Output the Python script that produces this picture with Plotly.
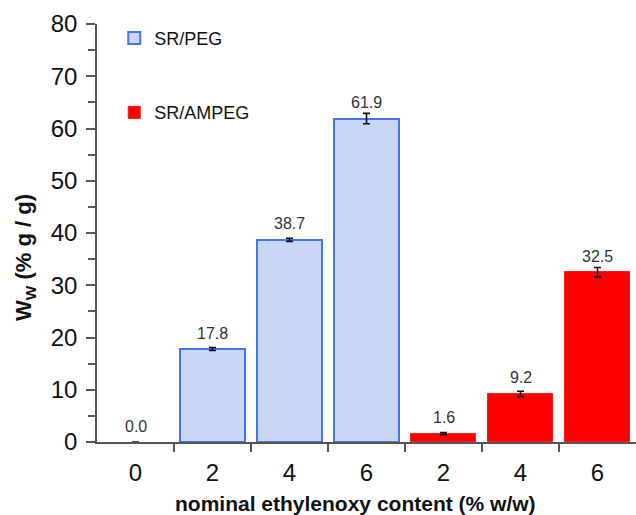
import plotly.graph_objects as go

# Category slots along the x axis (nominal ethylenoxy content, % w/w)
slot_labels = ["0", "2", "4", "6", "2", "4", "6"]

# Water uptake W_W (% g/g) with standard deviations
peg_slots = [1, 2, 3, 0]
peg_values = [17.8, 38.7, 61.9, 0.0]
peg_errors = [0.3, 0.3, 1.0, 0.0]

ampeg_slots = [4, 5, 6]
ampeg_values = [1.6, 9.2, 32.5]
ampeg_errors = [0.2, 0.5, 0.9]

FONT = "Liberation Sans, Arial, sans-serif"
AXIS_GREY = "#555555"

fig = go.Figure()

# Zero-height bars get no outline so nothing shows along the baseline
fig.add_trace(go.Bar(
    x=peg_slots, y=peg_values, name="SR/PEG", legendgroup="peg",
    width=0.85,
    marker=dict(color="#c9d7f7",
                line=dict(color="#4574f2",
                          width=[0 if v == 0 else 2 for v in peg_values])),
    error_y=dict(type="data", array=peg_errors, visible=True,
                 color="#111111", thickness=1.6, width=3.5),
))
fig.add_trace(go.Bar(
    x=ampeg_slots, y=ampeg_values, name="SR/AMPEG", legendgroup="ampeg",
    width=0.85,
    marker=dict(color="#ff0000", line=dict(color="#ff1a1a", width=1)),
    error_y=dict(type="data", array=ampeg_errors, visible=True,
                 color="#111111", thickness=1.6, width=3.5),
))

# Value labels above each bar
for xs, vs in ((peg_slots, peg_values), (ampeg_slots, ampeg_values)):
    for x, v in zip(xs, vs):
        fig.add_annotation(
            x=x, y=v, text=f"{v:.1f}", showarrow=False,
            yanchor="middle", yshift=16,
            font=dict(family=FONT, size=16, color="#333333"),
        )

# X axis title, placed under the tick labels
fig.add_annotation(
    xref="paper", yref="paper", x=0.479, y=-0.148,
    text="<b>nominal ethylenoxy content (% w/w)</b>", showarrow=False,
    xanchor="center", yanchor="middle",
    font=dict(family=FONT, size=21, color="#111111"),
)

# Y axis title, rotated, left of the tick labels
fig.add_annotation(
    xref="paper", yref="paper", x=-0.1336, y=0.4426,
    text="<b>W<sub>W</sub> (% g / g)</b>", showarrow=False, textangle=-90,
    xanchor="center", yanchor="middle",
    font=dict(family=FONT, size=22, color="#111111"),
)

fig.update_layout(
    width=636, height=515,
    margin=dict(l=97, r=0, t=24, b=73),
    paper_bgcolor="white", plot_bgcolor="white",
    font=dict(family=FONT, color="#111111"),
    barmode="overlay",
    bargap=0,
    showlegend=True,
    legend=dict(
        x=0.032, y=1.01, xanchor="left", yanchor="top",
        font=dict(family=FONT, size=18, color="#111111"),
        bgcolor="rgba(0,0,0,0)",
        tracegroupgap=48,
        traceorder="grouped",
    ),
    xaxis=dict(
        range=[-0.5, 6.5],
        tickmode="array", tickvals=list(range(len(slot_labels))),
        ticktext=slot_labels, ticks="", ticklen=0,
        tickfont=dict(family=FONT, size=24, color="#111111"),
        showline=True, linecolor=AXIS_GREY, linewidth=1.5,
        showgrid=False, zeroline=False,
        minor=dict(tickmode="array",
                   tickvals=[i + 0.5 for i in range(len(slot_labels) - 1)],
                   ticks="outside", ticklen=8, tickwidth=1.5,
                   tickcolor=AXIS_GREY, showgrid=False),
        ticklabelstandoff=8,
    ),
    yaxis=dict(
        range=[0, 80],
        tickmode="array", tickvals=list(range(0, 81, 10)),
        ticks="outside", ticklen=9, tickwidth=1.5, tickcolor=AXIS_GREY,
        tickfont=dict(family=FONT, size=24, color="#111111"),
        showline=True, linecolor=AXIS_GREY, linewidth=1.5,
        showgrid=False, zeroline=False,
        minor=dict(tickmode="array", tickvals=list(range(5, 80, 10)),
                   ticks="outside", ticklen=7, tickwidth=1.5,
                   tickcolor=AXIS_GREY, showgrid=False),
        ticklabelstandoff=4,
    ),
)

fig.write_html("out.html")
